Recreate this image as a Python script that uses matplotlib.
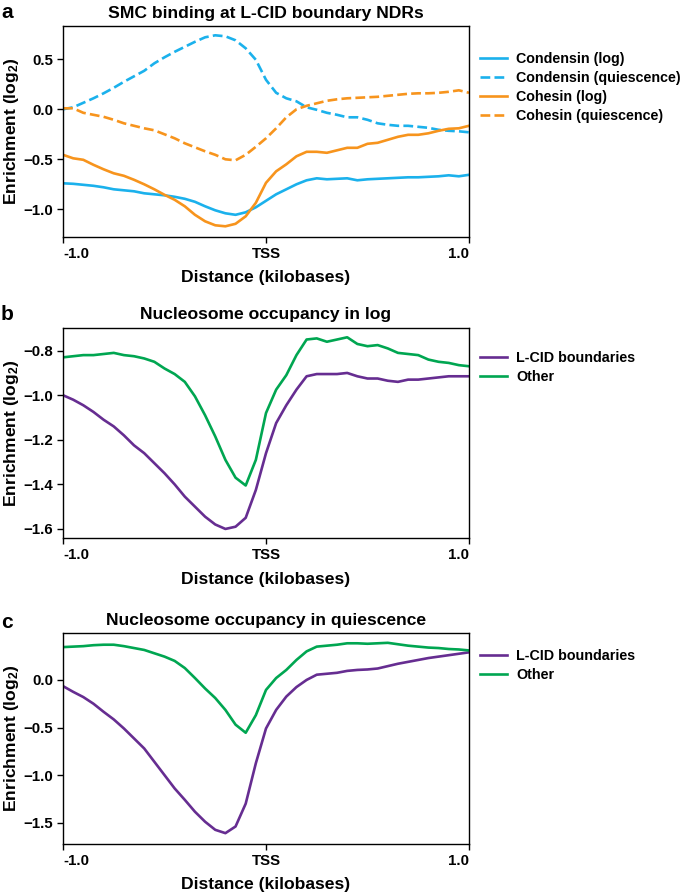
import numpy as np
import matplotlib
matplotlib.use("Agg")
import matplotlib.pyplot as plt

plt.rcParams['font.family'] = ['Liberation Sans', 'DejaVu Sans']
plt.rcParams['font.weight'] = 'bold'
plt.rcParams['axes.labelweight'] = 'bold'
plt.rcParams['axes.titleweight'] = 'bold'
plt.rcParams['mathtext.fontset'] = 'custom'
plt.rcParams['mathtext.rm'] = 'Liberation Sans:bold'
plt.rcParams['mathtext.bf'] = 'Liberation Sans:bold'
plt.rcParams['mathtext.it'] = 'Liberation Sans:bold'
plt.rcParams['mathtext.default'] = 'bf'

# distance from TSS in kilobases
x = np.linspace(-1.0, 1.0, 41)

condensin_log = [-0.74, -0.745, -0.755, -0.765, -0.78, -0.80, -0.81, -0.82, -0.84, -0.85,
                 -0.86, -0.875, -0.895, -0.925, -0.97, -1.01, -1.04, -1.055, -1.03, -0.98,
                 -0.915, -0.85, -0.80, -0.75, -0.71, -0.69, -0.70, -0.695, -0.69, -0.71,
                 -0.70, -0.695, -0.69, -0.685, -0.68, -0.68, -0.675, -0.67, -0.66, -0.67, -0.655]
condensin_q = [0.0, 0.02, 0.065, 0.11, 0.16, 0.215, 0.275, 0.33, 0.385, 0.46,
               0.52, 0.575, 0.625, 0.675, 0.72, 0.74, 0.73, 0.69, 0.61, 0.495,
               0.295, 0.165, 0.11, 0.08, 0.02, -0.005, -0.035, -0.055, -0.08, -0.08,
               -0.105, -0.14, -0.155, -0.165, -0.165, -0.175, -0.185, -0.205, -0.215, -0.22, -0.23]
cohesin_log = [-0.455, -0.49, -0.505, -0.555, -0.60, -0.64, -0.665, -0.705, -0.75, -0.80,
               -0.855, -0.905, -0.97, -1.055, -1.12, -1.16, -1.17, -1.145, -1.07, -0.935,
               -0.735, -0.62, -0.55, -0.47, -0.425, -0.425, -0.435, -0.41, -0.385, -0.385,
               -0.345, -0.335, -0.305, -0.275, -0.255, -0.255, -0.24, -0.215, -0.195, -0.19, -0.165]
cohesin_q = [0.01, 0.01, -0.035, -0.055, -0.075, -0.105, -0.14, -0.165, -0.19, -0.21,
             -0.25, -0.29, -0.34, -0.38, -0.42, -0.455, -0.50, -0.51, -0.455, -0.375,
             -0.29, -0.19, -0.08, 0.0, 0.035, 0.06, 0.085, 0.10, 0.11, 0.115,
             0.12, 0.125, 0.135, 0.145, 0.155, 0.16, 0.16, 0.165, 0.175, 0.19, 0.165]

log_lcid = [-1.0, -1.02, -1.045, -1.075, -1.11, -1.14, -1.18, -1.225, -1.26, -1.305,
            -1.35, -1.40, -1.455, -1.50, -1.545, -1.58, -1.60, -1.59, -1.55, -1.425,
            -1.26, -1.125, -1.045, -0.975, -0.915, -0.905, -0.905, -0.905, -0.90, -0.915,
            -0.925, -0.925, -0.935, -0.94, -0.93, -0.93, -0.925, -0.92, -0.915, -0.915, -0.915]
log_other = [-0.83, -0.825, -0.82, -0.82, -0.815, -0.81, -0.82, -0.825, -0.835, -0.85,
             -0.88, -0.905, -0.94, -1.005, -1.09, -1.185, -1.29, -1.37, -1.405, -1.29,
             -1.08, -0.975, -0.91, -0.82, -0.75, -0.745, -0.76, -0.75, -0.74, -0.77,
             -0.78, -0.775, -0.79, -0.81, -0.815, -0.82, -0.84, -0.85, -0.855, -0.865, -0.87]

q_lcid = [-0.065, -0.125, -0.18, -0.25, -0.335, -0.415, -0.51, -0.615, -0.72, -0.86,
          -1.0, -1.14, -1.26, -1.385, -1.49, -1.575, -1.61, -1.54, -1.30, -0.875,
          -0.51, -0.315, -0.175, -0.075, 0.0, 0.055, 0.065, 0.075, 0.095, 0.105,
          0.11, 0.12, 0.145, 0.17, 0.19, 0.21, 0.23, 0.245, 0.26, 0.275, 0.29]
q_other = [0.345, 0.35, 0.355, 0.365, 0.37, 0.37, 0.355, 0.335, 0.315, 0.28,
           0.245, 0.20, 0.125, 0.02, -0.09, -0.19, -0.315, -0.47, -0.555, -0.37,
           -0.105, 0.02, 0.105, 0.21, 0.30, 0.35, 0.36, 0.37, 0.385, 0.385,
           0.38, 0.385, 0.39, 0.375, 0.36, 0.35, 0.34, 0.335, 0.325, 0.32, 0.31]

titles = ["SMC binding at L-CID boundary NDRs", "Nucleosome occupancy in log",
          "Nucleosome occupancy in quiescence"]
xtick_labels = ["-1.0", "TSS", "1.0"]

BLUE = '#1BB1EC'
ORANGE = '#F7941D'
PURPLE = '#662D91'
GREEN = '#00A651'
LW = 1.9

fig = plt.figure(figsize=(6.85, 8.94), dpi=100)
W, H = 685, 894

def make_ax(left, top, right, bottom):
    return fig.add_axes([left / W, 1 - bottom / H, (right - left) / W, (bottom - top) / H])

axa = make_ax(63, 26, 469, 237)
axb = make_ax(63, 327.7, 469, 538.3)
axc = make_ax(63, 633.3, 469, 844)

axa.plot(x, condensin_log, color=BLUE, lw=LW, label="Condensin (log)")
axa.plot(x, condensin_q, color=BLUE, lw=LW, ls='--', label="Condensin (quiescence)")
axa.plot(x, cohesin_log, color=ORANGE, lw=LW, label="Cohesin (log)")
axa.plot(x, cohesin_q, color=ORANGE, lw=LW, ls='--', label="Cohesin (quiescence)")
axa.set_ylim(-1.277, 0.833)
axa.set_yticks([-1.0, -0.5, 0.0, 0.5])

axb.plot(x, log_lcid, color=PURPLE, lw=LW, label="L-CID boundaries")
axb.plot(x, log_other, color=GREEN, lw=LW, label="Other")
axb.set_ylim(-1.642, -0.697)
axb.set_yticks([-1.6, -1.4, -1.2, -1.0, -0.8])

axc.plot(x, q_lcid, color=PURPLE, lw=LW, label="L-CID boundaries")
axc.plot(x, q_other, color=GREEN, lw=LW, label="Other")
axc.set_ylim(-1.724, 0.49)
axc.set_yticks([-1.5, -1.0, -0.5, 0.0])

leg_y = [0.875, 0.89, 0.925]
for ax, t, ly in zip([axa, axb, axc], titles, leg_y):
    ax.set_xlim(-1.0, 1.0)
    ax.set_xticks([-1.0, 0.0, 1.0])
    ax.set_xticklabels(xtick_labels)
    labs = ax.get_xticklabels()
    labs[0].set_ha('left')
    labs[2].set_ha('right')
    ax.tick_params(labelsize=10.8, width=1, length=4, pad=3)
    for lab in ax.get_yticklabels() + ax.get_xticklabels():
        lab.set_fontweight('bold')
    for s in ax.spines.values():
        s.set_linewidth(1)
    ax.set_title(t, fontsize=12.6, fontweight='bold', pad=6)
    ax.set_xlabel("Distance (kilobases)", fontsize=12.6, fontweight='bold', labelpad=7)
    ax.set_ylabel("Enrichment (log$_2$)", fontsize=12.6, fontweight='bold', labelpad=2)
    ax.legend(loc='upper left', bbox_to_anchor=(1.027, ly), frameon=False,
              borderpad=0, borderaxespad=0, handlelength=1.9, handletextpad=0.65,
              labelspacing=0.33, prop={'size': 10.3, 'weight': 'bold'})

for letter, yy in zip(['a', 'b', 'c'], [13, 315, 622]):
    fig.text(1 / W, 1 - yy / H, letter, fontsize=15, fontweight='bold', va='center', ha='left')

fig.savefig("out.png", dpi=100)
